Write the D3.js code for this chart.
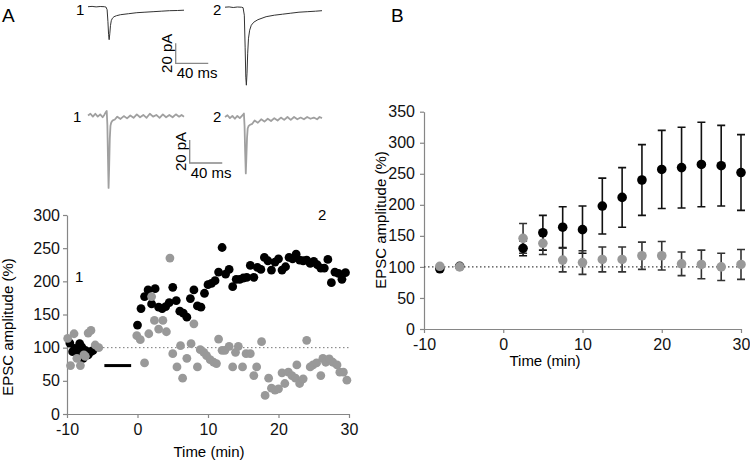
<!DOCTYPE html>
<html><head><meta charset="utf-8">
<script src="https://cdn.jsdelivr.net/npm/d3@7/dist/d3.min.js"></script>
<style>
body{margin:0;background:#fff;}
svg{display:block;font-family:"Liberation Sans",Arial,sans-serif;}
</style></head>
<body><svg id="c" width="750" height="463"></svg>
<script>
// ---------- Panel A: example traces (time ms, current pA) ----------
const traceBlack1T = [0,5,10,15,20,22,23.5,24.5,25.3,26,26.8,27.6,28.6,30,32,35,40,50,60,70,80,90,100,110,118];
const traceBlack1V = [0,0.3,-0.2,0.2,0,-0.3,-3,-15,-28,-33,-27,-19,-14,-11.5,-10,-9,-8,-7,-6,-5.5,-5,-4.5,-4,-3.8,-3.5];
const traceBlack2T = [0,5,10,15,20,22,23.5,24.5,25.3,26,26.8,27.6,28.6,30,32,35,40,50,60,70,80,90,100,110,118];
const traceBlack2V = [0,0.3,-0.3,0.2,0,-0.5,-8,-40,-70,-78,-66,-46,-31,-23,-18,-15,-12.5,-9.5,-8,-7,-6,-5,-4.5,-4,-3.5];
const traceGray1T = [0,3,6,9,12,15,18,20,22,23,23.8,24.5,25.3,26,26.8,27.6,28.6,30,33,36,40,44,48,52,56,60,64,68,72,76,80,84,88,92,96,100,104,108,112,115,118];
const traceGray1V = [0,1.5,-1,1.5,-1,1,-1.5,0.5,3,4,-8,-35,-63,-45,-20,-9,-6,-4.5,-3.5,-1,-3,-0.5,-2.5,0,-2,1,-1.5,0.5,-2,1.5,-1,0.5,-2,1,-1.5,0.5,-1.5,1,-1,0.5,-1];
const traceGray2T = [0,3,6,9,12,15,18,20,22,23,23.8,24.5,25.3,26,26.8,27.6,28.6,30,33,36,40,44,48,52,56,60,64,68,72,76,80,84,88,92,96,100,104,108,112,115,118];
const traceGray2V = [0,1.5,-1,1,-1.5,1,-1,0.5,2,3,-8,-30,-49,-35,-18,-10,-8,-7,-6,-3,-5,-2,-4,-1.5,-3.5,-1,-3,-0.5,-2.5,0,-2.5,0,-2,-0.5,-2,0,-1.5,-0.5,-2,0,-1];
const scaleBarPA = 20, scaleBarMs = 40;

// ---------- Panel A: time course (min, %) ----------
const blackTimeA = [-9.6,-9.2,-8.9,-8.5,-8.2,-7.9,-7.7,-7.4,-7.0,-6.6,-6.3,
  0,0.5,1,1.5,2,2.5,3,3.5,4,4.5,5,5.5,6,6.5,7,7.5,8,8.5,9,9.5,10,10.5,11,11.5,12,12.5,13,13.5,14,14.5,
  15,15.5,16,16.5,17,17.5,18,18.5,19,19.5,20,20.5,21,21.5,22,22.5,23,23.5,24,24.5,25,25.5,26,26.5,27,27.5,28,28.5,29,29.5];
const blackValA = [107,94,99,91,106,101,84,96,89,94,96,
  134,159,177,187,166,189,161,159,162,168,191,171,155,152,146,174,187,163,161,182,195,197,201,214,251,211,218,192,203,203,
  205,206,224,206,221,218,236,231,217,229,234,217,222,236,234,241,232,231,232,227,230,225,220,220,233,198,214,212,203,213];
const grayTimeA = [-9.9,-9.5,-9.0,-8.6,-8.1,-7.6,-7.4,-7.0,-6.6,-6.0,-5.5,
  -0.1,0.4,1.0,1.6,2.0,2.4,3.0,3.6,4.1,4.6,5.0,5.6,6.1,6.4,7.0,7.6,8.0,8.5,8.9,9.4,9.8,10.3,10.8,11.2,11.5,12.0,12.4,
  13.0,13.5,13.9,14.3,14.9,15.4,16.0,16.5,16.9,17.6,18.1,18.6,19.0,19.5,20.0,20.5,20.9,21.4,21.9,22.4,22.6,23.0,23.5,
  24.0,24.5,24.9,25.4,26.0,26.3,26.7,27.2,27.7,28.3,28.7,29.2,29.7];
const grayValA = [114,73,121,84,73,89,87,122,126,104,100,
  118,112,77,121,177,141,128,141,124,235,91,71,103,54,84,106,136,71,97,93,88,82,78,76,113,96,96,
  102,71,93,102,71,91,91,58,71,109,28,54,39,36,38,62,46,63,58,54,74,46,53,
  111,71,74,77,58,84,78,83,78,74,63,63,51];
const barA = [-4.7, -0.9];   // horizontal black bar
const barALevel = 73;
const ticksAY = [0,50,100,150,200,250,300];
const ticksX = [-10,0,10,20,30];

// ---------- Panel B: group means ± error ----------
const timeB = [-8,-5.5,2.5,5,7.5,10,12.5,15,17.5,20,22.5,25,27.5,30];
const blackMeanB = [97,101,130,155,164,160,198,212,240,257,260,265,263,252];
const blackErrB  = [0,0,12,28,33,38,45,48,57,63,65,68,65,61];
const grayMeanB  = [101,100,146,138,111,107,112,112,118,118,105,104,100,104];
const grayErrB   = [0,0,24,18,19,19,20,20,22,23,19,23,22,24];
const ticksBY = [0,50,100,150,200,250,300,350];

const svg = d3.select("#c");
const AXC = "#868686";
const fmt = d => String(d);   // plain hyphen-minus like the reference

// ---------- traces ----------
function drawTrace(T, V, x0, x1, base, pxPerPA, color, width) {
  const x = d3.scaleLinear().domain([0,118]).range([x0,x1]);
  const y = d3.scaleLinear().domain([0,-100]).range([base, base + 100*pxPerPA]);
  const line = d3.line().x((d,i)=>x(T[i])).y((d,i)=>y(V[i]));
  svg.append("path").attr("d", line(T)).attr("fill","none")
    .attr("stroke",color).attr("stroke-width",width).attr("stroke-linejoin","round");
  return {x,y};
}
const tb1 = drawTrace(traceBlack1T, traceBlack1V, 88, 184, 6.7, 1.0, "#333", 1);
drawTrace(traceBlack2T, traceBlack2V, 225, 322, 7.2, 1.0, "#333", 1);
const tg1 = drawTrace(traceGray1T, traceGray1V, 88, 184, 115.5, 1.15, "#a0a0a0", 1.8);
drawTrace(traceGray2T, traceGray2V, 225, 322, 117, 1.15, "#a0a0a0", 1.8);

function scaleBar(sx, x0, yBottom, pxPerPA, labelY) {
  const len = sx(scaleBarMs) - sx(0);
  const h = scaleBarPA * pxPerPA;
  svg.append("path").attr("d", `M${x0},${yBottom-h}V${yBottom}H${x0+len}`)
    .attr("fill","none").attr("stroke","#888").attr("stroke-width",1.3);
  svg.append("text").attr("transform",`translate(${x0-4},${yBottom-h/2}) rotate(-90)`)
    .attr("text-anchor","middle").attr("font-size",15).text(scaleBarPA + " pA");
  svg.append("text").attr("x", x0+1).attr("y", labelY).attr("font-size",15).text(scaleBarMs + " ms");
}
scaleBar(tb1.x, 175.7, 63.3, 1.0, 78);
scaleBar(tg1.x, 189.7, 163, 1.15, 178);

const labels = [["1",76,15],["2",213,15],["1",73,122],["2",213,122],["1",75,282],["2",318,220]];
labels.forEach(d=>svg.append("text").attr("x",d[1]).attr("y",d[2]).attr("font-size",15).text(d[0]));
svg.append("text").attr("x",2).attr("y",22).attr("font-size",19).text("A");
svg.append("text").attr("x",391).attr("y",22).attr("font-size",19).text("B");

// ---------- Panel A plot ----------
const xA = d3.scaleLinear().domain([-10,30]).range([67,349]);
const yA = d3.scaleLinear().domain([0,300]).range([414,215]);

function styleAxis(g){
  g.selectAll(".domain").attr("stroke",AXC).attr("stroke-width",1.2);
  g.selectAll(".tick line").attr("stroke",AXC).attr("stroke-width",1.2);
  g.selectAll(".tick text").attr("fill","#111").attr("font-size",16)
    .attr("font-family","Liberation Sans, Arial, sans-serif");
}
svg.append("g").attr("transform","translate(67,0)")
  .call(d3.axisLeft(yA).tickValues(ticksAY).tickFormat(fmt).tickSize(4).tickSizeOuter(0).tickPadding(3))
  .call(styleAxis);
svg.append("g").attr("transform","translate(0,414)")
  .call(d3.axisBottom(xA).tickValues(ticksX).tickFormat(fmt).tickSize(4).tickSizeOuter(0).tickPadding(6))
  .call(styleAxis);

svg.append("line").attr("x1",xA(-10)).attr("x2",xA(30)).attr("y1",yA(100)).attr("y2",yA(100))
  .attr("stroke","#777").attr("stroke-width",1).attr("stroke-dasharray","1.5,2.5");

svg.append("line").attr("x1",xA(barA[0])).attr("x2",xA(barA[1]))
  .attr("y1",yA(barALevel)).attr("y2",yA(barALevel)).attr("stroke","#000").attr("stroke-width",3);

svg.append("g").selectAll("circle").data(blackTimeA).join("circle")
  .attr("cx",(d)=>xA(d)).attr("cy",(d,i)=>yA(blackValA[i])).attr("r",4.4).attr("fill","#000");
svg.append("g").selectAll("circle").data(grayTimeA).join("circle")
  .attr("cx",(d)=>xA(d)).attr("cy",(d,i)=>yA(grayValA[i])).attr("r",4.4).attr("fill","#999");

svg.append("text").attr("x",209).attr("y",457).attr("text-anchor","middle").attr("font-size",15).text("Time (min)");
svg.append("text").attr("transform","translate(13,327) rotate(-90)").attr("text-anchor","middle")
  .attr("font-size",15).text("EPSC amplitude (%)");

// ---------- Panel B plot ----------
const xB = d3.scaleLinear().domain([-10,30]).range([424,741]);
const yB = d3.scaleLinear().domain([0,350]).range([329,111.7]);

svg.append("g").attr("transform","translate(424,0)")
  .call(d3.axisLeft(yB).tickValues(ticksBY).tickFormat(fmt).tickSize(4).tickSizeOuter(0).tickPadding(5))
  .call(styleAxis);
svg.append("g").attr("transform","translate(0,329)")
  .call(d3.axisBottom(xB).tickValues(ticksX).tickFormat(fmt).tickSize(4).tickSizeOuter(0).tickPadding(6))
  .call(styleAxis);

svg.append("line").attr("x1",xB(-10)).attr("x2",xB(30)).attr("y1",yB(100)).attr("y2",yB(100))
  .attr("stroke","#444").attr("stroke-width",1.2).attr("stroke-dasharray","1.5,2.5");

function errBars(means, errs, color){
  const g = svg.append("g").attr("stroke",color).attr("stroke-width",1.6).attr("fill","none");
  timeB.forEach((t,i)=>{
    if(!errs[i]) return;
    const x = xB(t), y1 = yB(means[i]+errs[i]), y2 = yB(means[i]-errs[i]);
    g.append("path").attr("d",`M${x},${y1}V${y2}M${x-4},${y1}H${x+4}M${x-4},${y2}H${x+4}`);
  });
}
errBars(blackMeanB, blackErrB, "#111");
errBars(grayMeanB, grayErrB, "#333");

svg.append("g").selectAll("circle").data(timeB).join("circle")
  .attr("cx",d=>xB(d)).attr("cy",(d,i)=>yB(blackMeanB[i])).attr("r",4.8).attr("fill","#000");
svg.append("g").selectAll("circle").data(timeB).join("circle")
  .attr("cx",d=>xB(d)).attr("cy",(d,i)=>yB(grayMeanB[i])).attr("r",4.8).attr("fill","#999");

svg.append("text").attr("x",545).attr("y",366).attr("text-anchor","middle").attr("font-size",15).text("Time (min)");
svg.append("text").attr("transform","translate(386,220) rotate(-90)").attr("text-anchor","middle")
  .attr("font-size",15).text("EPSC amplitude (%)");
</script></body></html>
